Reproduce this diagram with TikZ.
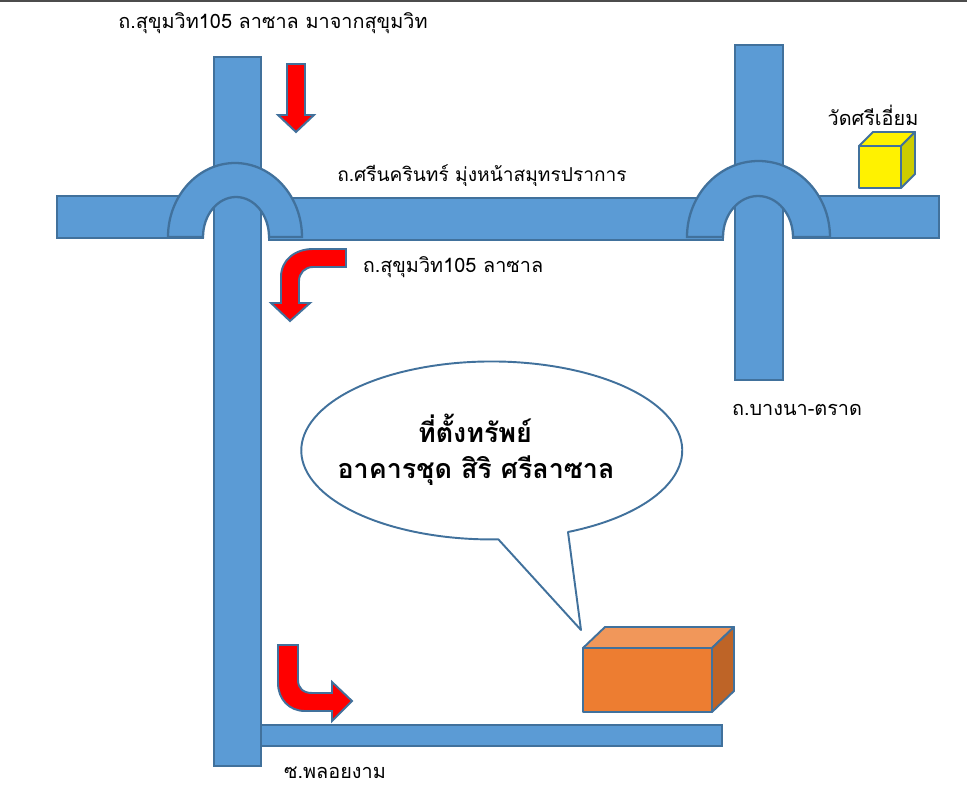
\documentclass[tikz,border=0pt]{standalone}
\usepackage{fontspec}
\newfontfamily\thaifont[Script=Thai]{Loma}
\tikzset{
	road/.style = {draw = roadline, fill = roadblue, line width = 1.3pt},
	redarrow/.style = {draw = roadline, fill = red, line width = 1.1pt},
	boxline/.style = {draw = roadline, line width = 1.1pt, line join = round},
	label/.style = {font = \thaifont\fontsize{11.3}{14}\selectfont, inner sep = 0pt},
	biglabel/.style = {font = \thaifont\bfseries\fontsize{15.3}{18}\selectfont, inner sep = 0pt}
}
\definecolor{roadblue}{HTML}{5B9BD5}
\definecolor{roadline}{HTML}{41719C}
\definecolor{boxfront}{HTML}{ED7D31}
\definecolor{boxtop}{HTML}{F1975A}
\definecolor{boxside}{HTML}{BE6427}
\definecolor{cubeside}{HTML}{CCCC00}
\begin{document}
\begin{tikzpicture}[x = 0.02cm, y = -0.02cm]
		\useasboundingbox (0, 0) rectangle (967, 800);
		\fill[black!70] (0, 0) rectangle (967, 2);
		% roads
		\draw[road] (214, 57) rectangle (261, 766);
		\draw[road] (735, 45) rectangle (783, 380);
		\draw[road] (57, 196) rectangle (203, 238);
		\draw[road] (269, 198) rectangle (723, 240);
		\draw[road] (793, 196) rectangle (939, 238);
		\draw[road] (261, 725) rectangle (722, 746);
		% bridges
		\draw[road] (168, 237) arc[start angle = 180, end angle = 0, x radius = 1.34cm, y radius = 1.48cm] -- (269, 237) arc[start angle = 0, end angle = 180, x radius = 0.66cm, y radius = 0.8cm] -- cycle;
		\draw[road] (687, 237) arc[start angle = 180, end angle = 0, x radius = 1.43cm, y radius = 1.52cm] -- (793, 237) arc[start angle = 0, end angle = 180, x radius = 0.7cm, y radius = 0.82cm] -- cycle;
		% arrows
		\draw[redarrow] (287, 64) -- (305, 64) -- (305, 115) -- (314, 115) -- (296, 132) -- (278, 115) -- (287, 115) -- cycle;
		\draw[redarrow] (346, 249) -- (346, 267) -- (313, 267) .. controls (305, 267) and (299, 273) .. (299, 281) -- (299, 303) -- (310, 303) -- (290, 321) -- (271, 303) -- (281, 303) -- (281, 277) .. controls (281, 260) and (295, 249) .. (313, 249) -- cycle;
		\draw[redarrow] (278, 645) -- (298, 645) -- (298, 680) .. controls (298, 688) and (303, 693) .. (312, 693) -- (332, 693) -- (332, 682) -- (352, 701) -- (332, 721) -- (332, 711) -- (305, 711) .. controls (289, 711) and (278, 699) .. (278, 683) -- cycle;
		% callout
		\draw[roadline, line width = 1.1pt, line join = round] (568, 532) arc[start angle = -66.4, end angle = 272, x radius = 3.81cm, y radius = 1.78cm] -- (581, 630) -- cycle;
		% yellow cube
		\draw[boxline, fill = yellow] (859, 146) -- (873, 132) -- (915, 132) -- (901, 146) -- cycle;
		\draw[boxline, fill = cubeside] (901, 146) -- (915, 132) -- (915, 174) -- (901, 188) -- cycle;
		\draw[boxline, fill = yellow] (859, 146) rectangle (901, 188);
		% orange box
		\draw[boxline, fill = boxtop] (583, 648) -- (605, 627) -- (734, 627) -- (712, 648) -- cycle;
		\draw[boxline, fill = boxside] (712, 648) -- (734, 627) -- (734, 691) -- (712, 712) -- cycle;
		\draw[boxline, fill = boxfront] (583, 648) rectangle (712, 712);
		% labels
		\node[label] (sukhumvit) at (273, 23) {ถ.สุขุมวิท105 ลาซาล มาจากสุขุมวิท};
		\node[label, font = \thaifont\fontsize{10.9}{14}\selectfont] (srinakarin) at (482, 176) {ถ.ศรีนครินทร์ มุ่งหน้าสมุทรปราการ};
		\node[label] (lasalle) at (453, 267) {ถ.สุขุมวิท105 ลาซาล};
		\node[label] (bangna) at (797, 410) {ถ.บางนา-ตราด};
		\node[label] (wat) at (873, 115) {วัดศรีเอี่ยม};
		\node[label] (soi) at (335, 773) {ซ.พลอยงาม};
		\node[biglabel] (site) at (475, 428) {ที่ตั้งทรัพย์};
		\node[biglabel] (condo) at (476, 471) {อาคารชุด สิริ ศรีลาซาล};
	\end{tikzpicture}
\end{document}
